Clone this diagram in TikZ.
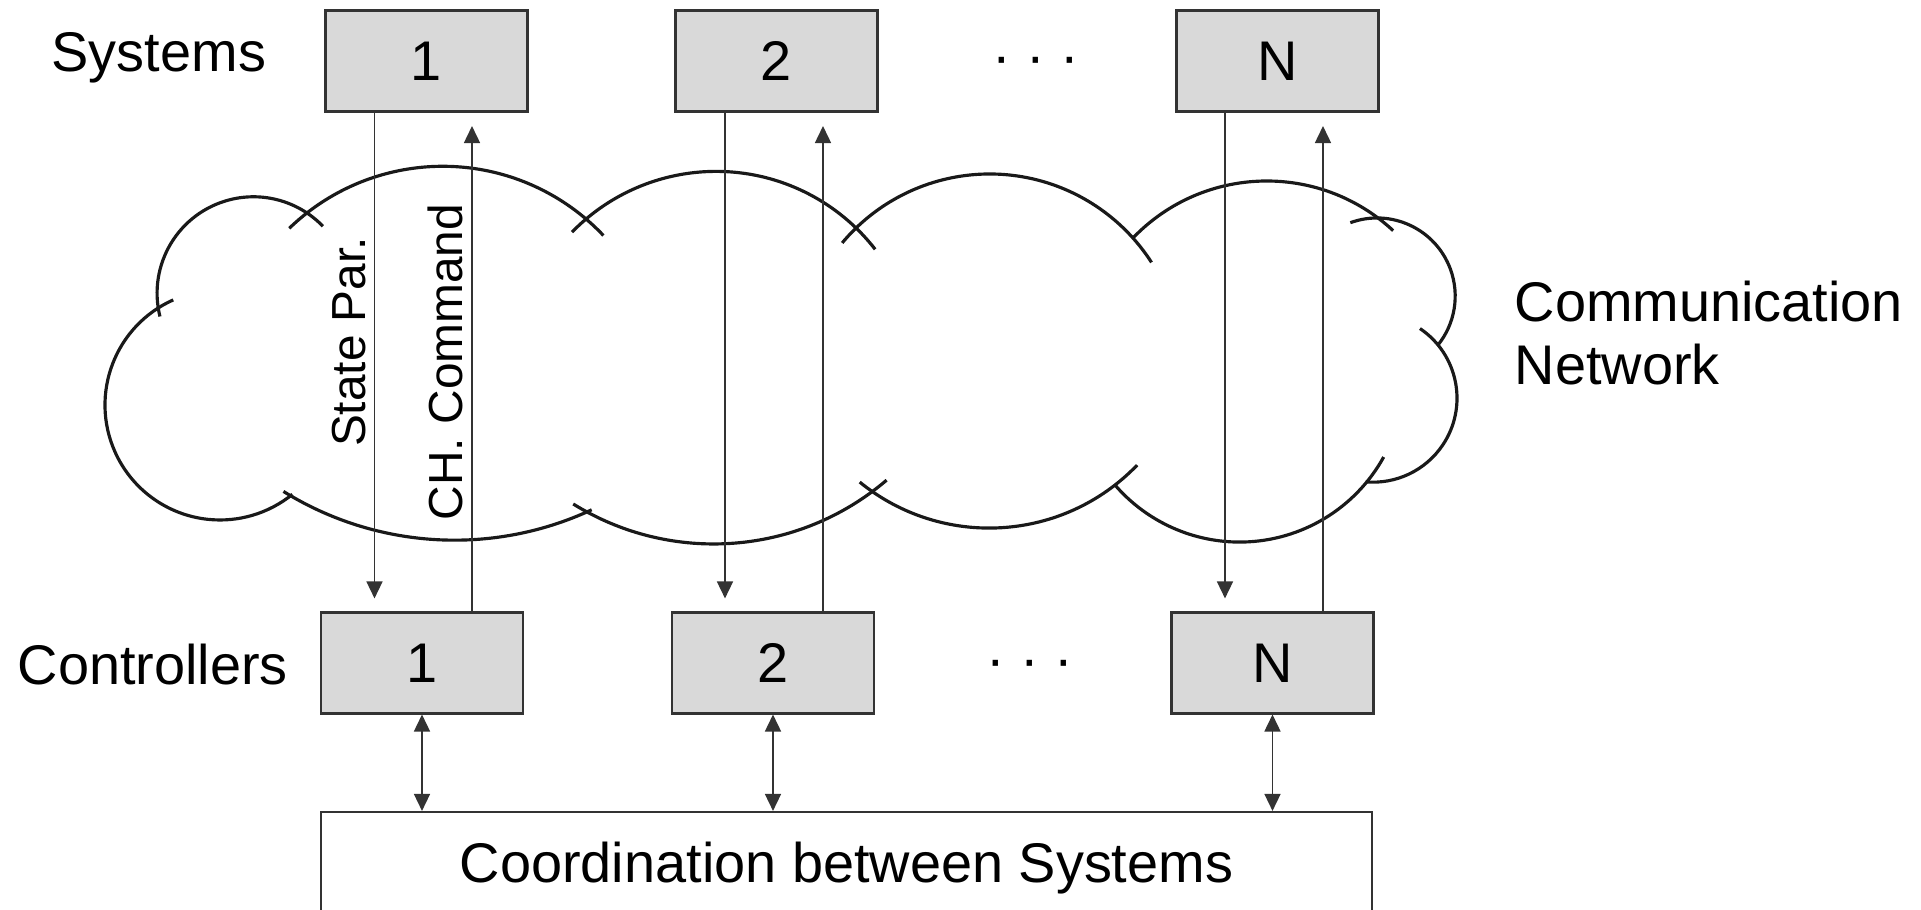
\documentclass[tikz,border=0pt]{standalone}
\usepackage{fontspec}
\setmainfont{Liberation Sans}
\usepackage{tikz}
\usetikzlibrary{arrows.meta}

\begin{document}
\begin{tikzpicture}[every node/.style={font=\fontsize{15.9}{17.9}\selectfont}]
% Define styles
\tikzstyle{sysbox} = [rectangle, minimum width=2.02cm, minimum height=1.01cm, inner sep=0pt, draw=black!80, line width=0.6pt, fill=black!15]
\tikzstyle{coordbox} = [rectangle, minimum width=10.51cm, minimum height=1.12cm, inner sep=0pt, draw=black!80, line width=0.6pt]
\tikzstyle{sig} = [line width=0.45pt, draw=black!80, -{Triangle[length=1.7mm,width=1.6mm]}]
\tikzstyle{link} = [line width=0.45pt, draw=black!80, {Triangle[length=1.7mm,width=1.6mm]}-{Triangle[length=1.7mm,width=1.6mm]}]
\tikzstyle{puff} = [line width=0.9pt, black!90]
\tikzstyle{siglabel} = [rotate=90, anchor=south, inner sep=0.8mm, font=\fontsize{13.6}{16}\selectfont]
\useasboundingbox (0,0) rectangle (19.21,9.10);
% Cloud of the network, top row of puffs
\draw [puff] (2.535,6.168) ++(194:0.964) arc[start angle=194, end angle=44, radius=0.964];
\draw [puff] (4.428,5.227) ++(134:2.21) arc[start angle=134, end angle=43.4, radius=2.21];
\draw [puff] (7.161,5.373) ++(135.7:2.013) arc[start angle=135.7, end angle=37.8, radius=2.013];
\draw [puff] (9.897,5.437) ++(140.1:1.923) arc[start angle=140.1, end angle=32.7, radius=1.923];
\draw [puff] (12.668,5.434) ++(136.1:1.856) arc[start angle=136.1, end angle=47.1, radius=1.856];
% right side
\draw [puff] (13.771,6.139) ++(110:0.781) arc[start angle=110, end angle=-39, radius=0.781];
\draw [puff] (13.73,5.118) ++(56:0.84) arc[start angle=56, end angle=-95, radius=0.84];
% bottom row
\draw [puff] (12.396,5.325) ++(-28.9:1.646) arc[start angle=-28.9, end angle=-139.2, radius=1.646];
\draw [puff] (9.892,5.872) ++(-43.9:2.053) arc[start angle=-43.9, end angle=-129.1, radius=2.053];
\draw [puff] (7.136,6.324) ++(-49.5:2.664) arc[start angle=-49.5, end angle=-121.8, radius=2.664];
\draw [puff] (4.545,6.944) ++(-65:3.246) arc[start angle=-65, end angle=-121.8, radius=3.246];
% left side
\draw [puff] (2.20,5.05) ++(114:1.15) arc[start angle=114, end angle=309, radius=1.15];
% Place nodes
\node (s1) [sysbox] at (4.265,8.49) {1};
\node (s2) [sysbox, node distance=3.5cm, right of=s1] {2};
\node (sN) [sysbox, node distance=5.01cm, right of=s2] {N};
\node (c1) [sysbox] at (4.22,2.47) {1};
\node (c2) [sysbox, node distance=3.51cm, right of=c1] {2};
\node (cN) [sysbox, node distance=4.995cm, right of=c2] {N};
\node (co) [coordbox] at (8.465,0.42) {Coordination between Systems};
\node (sysl) [anchor=base west, inner sep=0pt] at (0.51,8.38) {Systems};
\node (ctll) [anchor=base west, inner sep=0pt] at (0.17,2.25) {Controllers};
\node (netl) [anchor=west, align=left, inner sep=0pt] at (15.14,5.77) {Communication\\Network};
\node (dotsS) [anchor=base, inner sep=0pt] at (10.36,8.34) {· · ·};
\node (dotsC) [anchor=base, inner sep=0pt] at (10.30,2.31) {· · ·};
% Draw arrows
\draw [sig, shorten >=1.3mm] ([xshift=-5.2mm]s1.south) -- node [siglabel, pos=0.46] (sp) {State Par.} ([xshift=-5.2mm]s1.south |- c1.north);
\draw [sig, shorten >=1.35mm] ([xshift=5mm]c1.north) -- node [siglabel, pos=0.5] (cmd) {CH. Command} ([xshift=5mm]c1.north |- s1.south);
\draw [sig, shorten >=1.3mm] ([xshift=-5.15mm]s2.south) -- ([xshift=-5.15mm]s2.south |- c2.north);
\draw [sig, shorten >=1.35mm] ([xshift=5mm]c2.north) -- ([xshift=5mm]c2.north |- s2.south);
\draw [sig, shorten >=1.3mm] ([xshift=-5.25mm]sN.south) -- ([xshift=-5.25mm]sN.south |- cN.north);
\draw [sig, shorten >=1.35mm] ([xshift=5.05mm]cN.north) -- ([xshift=5.05mm]cN.north |- sN.south);
\draw [link] (c1.south) -- (c1.south |- co.north);
\draw [link] (c2.south) -- (c2.south |- co.north);
\draw [link] (cN.south) -- (cN.south |- co.north);
\end{tikzpicture}
\end{document}
